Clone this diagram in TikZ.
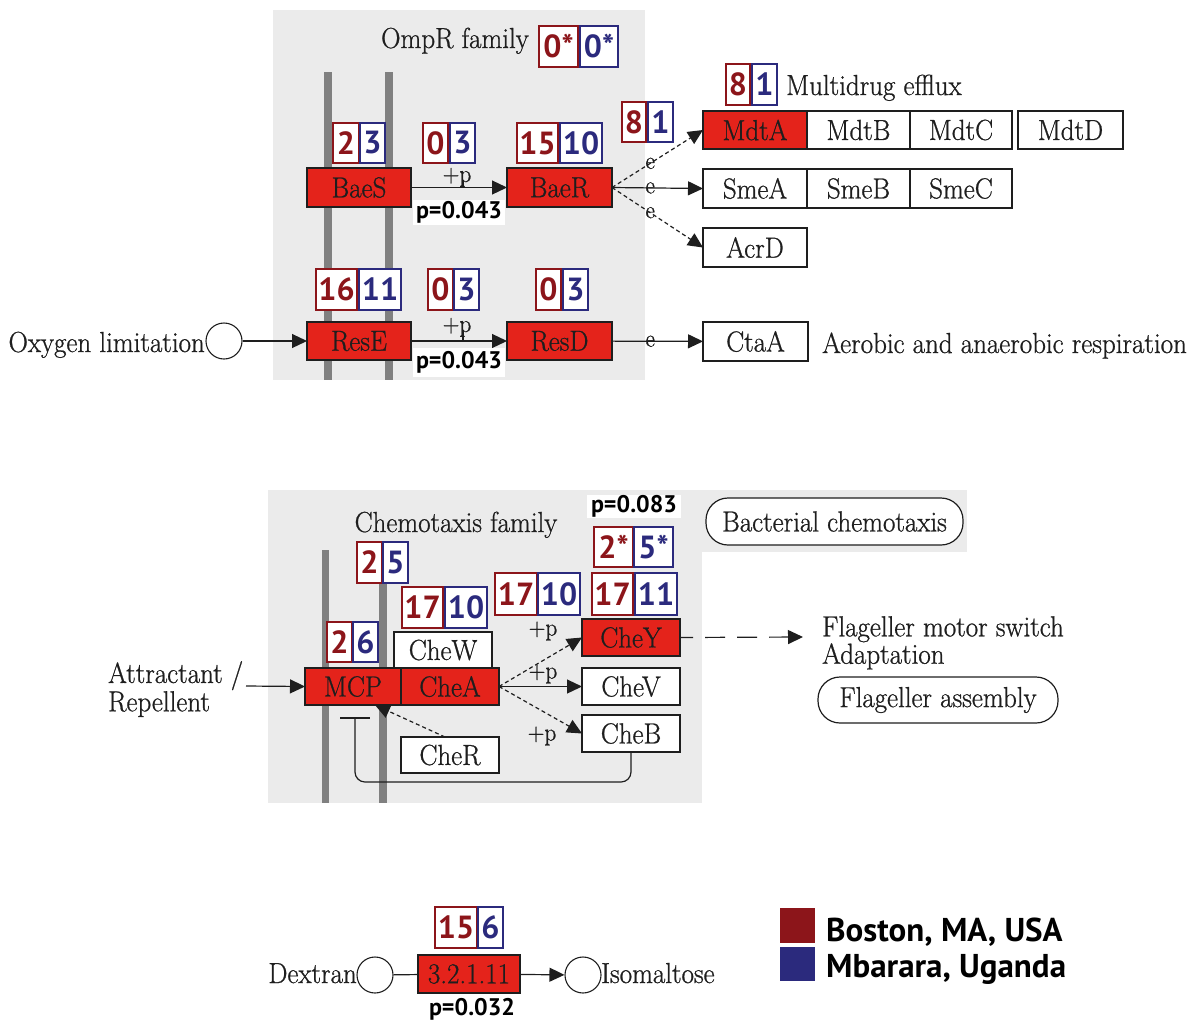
\documentclass[tikz,border=0pt]{standalone}
\usepackage{fontspec}
\usetikzlibrary{arrows.meta}
\newfontfamily\keggfont[FakeStretch=0.93,FakeBold=0.8]{Latin Modern Roman}
\newfontfamily\numfont{PT Sans}
\definecolor{keggred}{RGB}{228,35,27}
\definecolor{cred}{RGB}{140,21,26}
\definecolor{cblue}{RGB}{43,42,125}
\definecolor{bggray}{RGB}{235,235,235}
\definecolor{bargray}{RGB}{128,128,128}
\definecolor{ink}{RGB}{30,30,30}
\newcommand\bx[7]{\node[#1, minimum width={(#5)-(#3)}, minimum height={(#6)-(#4)}] (#2) at ({((#3)+(#5))/2},{((#4)+(#6))/2}) {#7};}
\tikzset{
  kt/.style={font=\keggfont\fontsize{29}{24}\selectfont, text=ink},
  ks/.style={font=\keggfont\fontsize{25}{26}\selectfont, text=ink, inner sep=0pt},
  gene/.style={draw=ink, line width=1.3pt, fill=white, inner sep=0pt, outer sep=0pt, kt},
  rgene/.style={gene, fill=keggred},
  mapbox/.style={draw=ink, line width=1.2pt, fill=white, rounded corners=22pt, inner sep=0pt, kt},
  cr/.style={draw=cred, line width=1.6pt, fill=white, inner sep=0pt, text=cred, font=\numfont\bfseries\fontsize{32}{33}\selectfont},
  cb/.style={cr, draw=cblue, text=cblue},
  pval/.style={fill=white, inner sep=0pt, font=\numfont\bfseries\fontsize{24}{26}\selectfont, text=black},
  arr/.style={-{Triangle[length=15pt,width=14pt]}, line width=1.2pt, draw=ink},
  dl/.style={dash pattern=on 4pt off 3pt},
  lab/.style={kt, inner sep=0pt},
  leg/.style={font=\numfont\bfseries\fontsize{33}{35}\selectfont, text=black, inner sep=0pt},
}
\begin{document}
\begin{tikzpicture}[x=1pt,y=-1pt]
\useasboundingbox (0,0) rectangle (1196,1021);
% ---------- backgrounds ----------
\fill[bggray] (273,10) rectangle (645,380);
\fill[bggray] (268,490) rectangle (702,803);
\fill[bggray] (702,490) rectangle (967,552);
\fill[bargray] (324,72) rectangle (332,380);
\fill[bargray] (385,72) rectangle (393,380);
\fill[bargray] (322,550) rectangle (329,803);
\fill[bargray] (379,550) rectangle (387,803);
% ---------- top: OmpR family ----------
\node[lab, anchor=base] (ompr) at (455,48) {OmpR family};
\bx{cr}{c1r}{539}{26}{578}{67}{0*}
\bx{cb}{c1b}{580}{26}{618}{67}{0*}
\bx{rgene}{BaeS}{307}{168}{411}{207}{BaeS}
\bx{rgene}{BaeR}{507}{168}{612}{207}{BaeR}
\bx{cr}{c2r}{333}{123}{359}{163}{2}
\bx{cb}{c2b}{360}{123}{385}{163}{3}
\bx{cr}{c3r}{423}{123}{448}{163}{0}
\bx{cb}{c3b}{450}{123}{475}{163}{3}
\bx{cr}{c4r}{517}{123}{558}{163}{15}
\bx{cb}{c4b}{560}{123}{602}{163}{10}
\draw[arr] (BaeS) -- (BaeR);
\node[ks, anchor=base] (pp1) at (457,182) {+p};
\draw[line width=1.1pt, ink] (463,180) -- (463,188);
\bx{pval}{pv1}{413}{200}{505}{225}{p=0.043}
% ResE / ResD
\bx{rgene}{ResE}{307}{322}{411}{360}{ResE}
\bx{rgene}{ResD}{507}{322}{612}{360}{ResD}
\bx{cr}{c5r}{316}{269}{357}{310}{16}
\bx{cb}{c5b}{359}{269}{401}{310}{11}
\bx{cr}{c6r}{428}{269}{453}{310}{0}
\bx{cb}{c6b}{454}{269}{479}{310}{3}
\bx{cr}{c7r}{536}{269}{561}{310}{0}
\bx{cb}{c7b}{563}{269}{588}{310}{3}
\draw[arr] (ResE) -- (ResD);
\node[ks, anchor=base] (pp2) at (457,332) {+p};
\draw[line width=1.1pt, ink] (463,330) -- (463,341);
\bx{pval}{pv2}{413}{348}{505}{377}{p=0.043}
\node[circle, draw=ink, line width=1.1pt, minimum size=36pt, inner sep=0pt] (oxy) at (224,341) {};
\node[lab, anchor=base east] (oxyt) at (205,352) {Oxygen limitation};
\draw[arr] (oxy) -- (ResE);
% ---------- top right ----------
\bx{cr}{c8r}{726}{64}{750}{105}{8}
\bx{cb}{c8b}{752}{64}{777}{105}{1}
\node[lab, anchor=base west] (mdf) at (786,95) {Multidrug efflux};
\bx{cr}{c9r}{622}{102}{646}{142}{8}
\bx{cb}{c9b}{648}{102}{673}{142}{1}
\bx{rgene}{MdtA}{703}{111}{807}{149}{MdtA}
\bx{gene}{MdtB}{807}{111}{910}{149}{MdtB}
\bx{gene}{MdtC}{910}{111}{1012}{149}{MdtC}
\bx{gene}{MdtD}{1018}{111}{1123}{149}{MdtD}
\bx{gene}{SmeA}{703}{169}{807}{208}{SmeA}
\bx{gene}{SmeB}{807}{169}{910}{208}{SmeB}
\bx{gene}{SmeC}{910}{169}{1012}{208}{SmeC}
\bx{gene}{AcrD}{703}{228}{807}{267}{AcrD}
\draw[arr, dl] (BaeR.east) -- node[ks, pos=0.42] (e1) {e} (MdtA.west);
\draw[arr] (BaeR.east) -- node[ks, pos=0.42] (e2) {e} (SmeA.west);
\draw[arr, dl] (BaeR.east) -- node[ks, pos=0.42] (e3) {e} (AcrD.west);
\bx{gene}{CtaA}{703}{322}{808}{361}{CtaA}
\draw[arr] (ResD) -- node[ks, pos=0.42] (e4) {e} (CtaA);
\node[lab, anchor=base west] (aer) at (822,353) {Aerobic and anaerobic respiration};
% ---------- middle: chemotaxis ----------
\node[lab, anchor=base] (chf) at (456,532) {Chemotaxis family};
\bx{pval}{pv3}{587}{495}{681}{518}{p=0.083}
\bx{mapbox}{bch}{706}{498}{963}{545}{Bacterial chemotaxis}
\bx{cr}{d1r}{357}{542}{382}{583}{2}
\bx{cb}{d1b}{383}{542}{408}{583}{5}
\bx{cr}{d2r}{327}{622}{352}{662}{2}
\bx{cb}{d2b}{353}{622}{378}{662}{6}
\bx{cr}{d3r}{402}{587}{443}{628}{17}
\bx{cb}{d3b}{445}{587}{487}{628}{10}
\bx{cr}{d4r}{495}{573}{537}{615}{17}
\bx{cb}{d4b}{538}{573}{580}{615}{10}
\bx{cr}{d5r}{592}{573}{633}{615}{17}
\bx{cb}{d5b}{635}{573}{677}{615}{11}
\bx{cr}{d6r}{594}{527}{633}{567}{2*}
\bx{cb}{d6b}{634}{527}{673}{567}{5*}
\bx{rgene}{CheY}{582}{619}{680}{656}{CheY}
\bx{gene}{CheW}{394}{632}{492}{668}{CheW}
\bx{rgene}{MCP}{305}{668}{401}{705}{MCP}
\bx{rgene}{CheA}{401}{668}{499}{705}{CheA}
\bx{gene}{CheV}{582}{668}{680}{705}{CheV}
\bx{gene}{CheB}{582}{715}{680}{752}{CheB}
\bx{gene}{CheR}{401}{737}{499}{773}{CheR}
\draw[arr, dl] (CheA.east) -- (CheY.west);
\draw[arr] (CheA.east) -- (CheV.west);
\draw[arr, dl] (CheA.east) -- (CheB.west);
\node[ks] (pp3) at (543,631) {+p};
\node[ks] (pp4) at (543,674) {+p};
\node[ks] (pp5) at (542,736) {+p};
\draw[arr, dl] ([xshift=-5pt]CheR.north) -- ([xshift=22pt]MCP.south);
\coordinate (inh) at (355,718);
\draw[line width=1.2pt, ink, rounded corners=10pt] (CheB.south) -- (631,782) -- (355,782) -- (inh);
\draw[line width=1.4pt, ink] (340,718) -- (370,718);
\node[lab, anchor=north west, align=left, inner sep=0pt] (att) at (108,661) {Attractant /\\Repellent};
\coordinate (attc) at (246,686);
\draw[arr] (attc) -- (MCP.west);
\coordinate (flag) at (803,637);
\draw[arr, dash pattern=on 20pt off 12pt, dash phase=7pt] (CheY.east) -- (flag);
\node[lab, anchor=north west, align=left, inner sep=0pt] (fms) at (822,616) {Flageller motor switch\\Adaptation};
\bx{mapbox}{fas}{818}{677}{1058}{723}{Flageller assembly}
% ---------- bottom ----------
\bx{cr}{b1r}{435}{907}{477}{948}{15}
\bx{cb}{b1b}{478}{907}{503}{948}{6}
\bx{rgene}{ec}{418}{955}{520}{993}{3.2.1.11}
\node[circle, draw=ink, line width=1.1pt, minimum size=36pt, inner sep=0pt] (dex) at (375,975) {};
\node[circle, draw=ink, line width=1.1pt, minimum size=36pt, inner sep=0pt] (iso) at (583,975) {};
\node[lab, anchor=base east] (dext) at (357,983) {Dextran};
\node[lab, anchor=base west] (isot) at (601,983) {Isomaltose};
\draw[line width=1.2pt, ink] (dex) -- (ec);
\draw[arr] (ec) -- (iso);
\node[pval, anchor=base] (pv4) at (472,1015) {p=0.032};
% ---------- legend ----------
\fill[cred] (780,908) rectangle (815,943);
\fill[cblue] (780,947) rectangle (815,981);
\node[leg, anchor=base west] (lg1) at (826,941) {Boston, MA, USA};
\node[leg, anchor=base west] (lg2) at (826,977) {Mbarara, Uganda};
\end{tikzpicture}
\end{document}
